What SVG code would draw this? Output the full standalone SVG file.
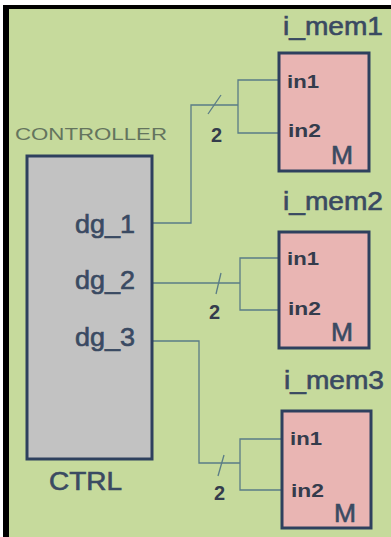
<svg xmlns="http://www.w3.org/2000/svg" width="391" height="537" viewBox="0 0 391 537">
<style>
.box{stroke:#2e405e;stroke-width:3}
.mem{fill:#e9b5b3}
.ctrl{fill:#c2c2c2}
.w{fill:none;stroke:#5a7c86;stroke-width:1.3}
.t{font-family:"Liberation Sans",Arial,sans-serif;fill:#3a4a62}
.pin{font-size:19px;font-weight:bold;fill:#343c4c}
.lbl{font-size:25px;stroke:#3a4a62;stroke-width:0.6}
.n{font-size:20px;font-weight:bold;fill:#343c4c}
</style>
<rect x="0" y="0" width="391" height="537" fill="#ffffff"/>
<rect x="3" y="5" width="388" height="532" fill="#000000"/>
<rect x="9" y="9" width="382" height="528" fill="#c6da9c"/>
<g id="connectors">
<polyline class="w" points="152,223 191,223 191,105 238,105"/>
<polyline class="w" points="279,80 238,80 238,133 279,133"/>
<line class="w" x1="208" y1="114" x2="221" y2="95"/>
<polyline class="w" points="152,283 240,283"/>
<polyline class="w" points="279,258 240,258 240,310 279,310"/>
<line class="w" x1="216" y1="294" x2="221" y2="273"/>
<polyline class="w" points="152,341 199,341 199,463 240,463"/>
<polyline class="w" points="282,439 240,439 240,490 282,490"/>
<line class="w" x1="218" y1="476" x2="224" y2="455"/>
<text class="t n" x="211" y="142">2</text>
<text class="t n" x="209" y="319">2</text>
<text class="t n" x="214" y="500">2</text>
</g>
<g id="controller">
<text class="t" x="15" y="140" font-size="16" textLength="152" lengthAdjust="spacingAndGlyphs" style="fill:#64745e">CONTROLLER</text>
<rect class="box ctrl" x="27" y="156" width="125" height="303"/>
<text class="t lbl" x="75" y="233" textLength="60" lengthAdjust="spacingAndGlyphs">dg_1</text>
<text class="t lbl" x="75" y="289" textLength="60" lengthAdjust="spacingAndGlyphs">dg_2</text>
<text class="t lbl" x="75" y="346" textLength="60" lengthAdjust="spacingAndGlyphs">dg_3</text>
<text class="t lbl" x="49" y="490" textLength="73" lengthAdjust="spacingAndGlyphs">CTRL</text>
</g>
<g id="i_mem1">
<text class="t lbl" x="283" y="35" textLength="100" lengthAdjust="spacingAndGlyphs">i_mem1</text>
<rect class="box mem" x="279" y="53" width="90" height="118"/>
<text class="t pin" x="287" y="88" textLength="32" lengthAdjust="spacingAndGlyphs">in1</text>
<text class="t pin" x="288" y="137" textLength="33" lengthAdjust="spacingAndGlyphs">in2</text>
<text class="t lbl" x="331" y="164" font-size="23" textLength="22" lengthAdjust="spacingAndGlyphs">M</text>
</g>
<g id="i_mem2">
<text class="t lbl" x="283" y="210" textLength="100" lengthAdjust="spacingAndGlyphs">i_mem2</text>
<rect class="box mem" x="279" y="232" width="90" height="116"/>
<text class="t pin" x="287" y="265" textLength="32" lengthAdjust="spacingAndGlyphs">in1</text>
<text class="t pin" x="288" y="315" textLength="33" lengthAdjust="spacingAndGlyphs">in2</text>
<text class="t lbl" x="331" y="341" font-size="23" textLength="22" lengthAdjust="spacingAndGlyphs">M</text>
</g>
<g id="i_mem3">
<text class="t lbl" x="284" y="389" textLength="100" lengthAdjust="spacingAndGlyphs">i_mem3</text>
<rect class="box mem" x="282" y="411" width="89" height="117"/>
<text class="t pin" x="290" y="445" textLength="32" lengthAdjust="spacingAndGlyphs">in1</text>
<text class="t pin" x="291" y="497" textLength="33" lengthAdjust="spacingAndGlyphs">in2</text>
<text class="t lbl" x="334" y="522" font-size="23" textLength="22" lengthAdjust="spacingAndGlyphs">M</text>
</g>
</svg>
